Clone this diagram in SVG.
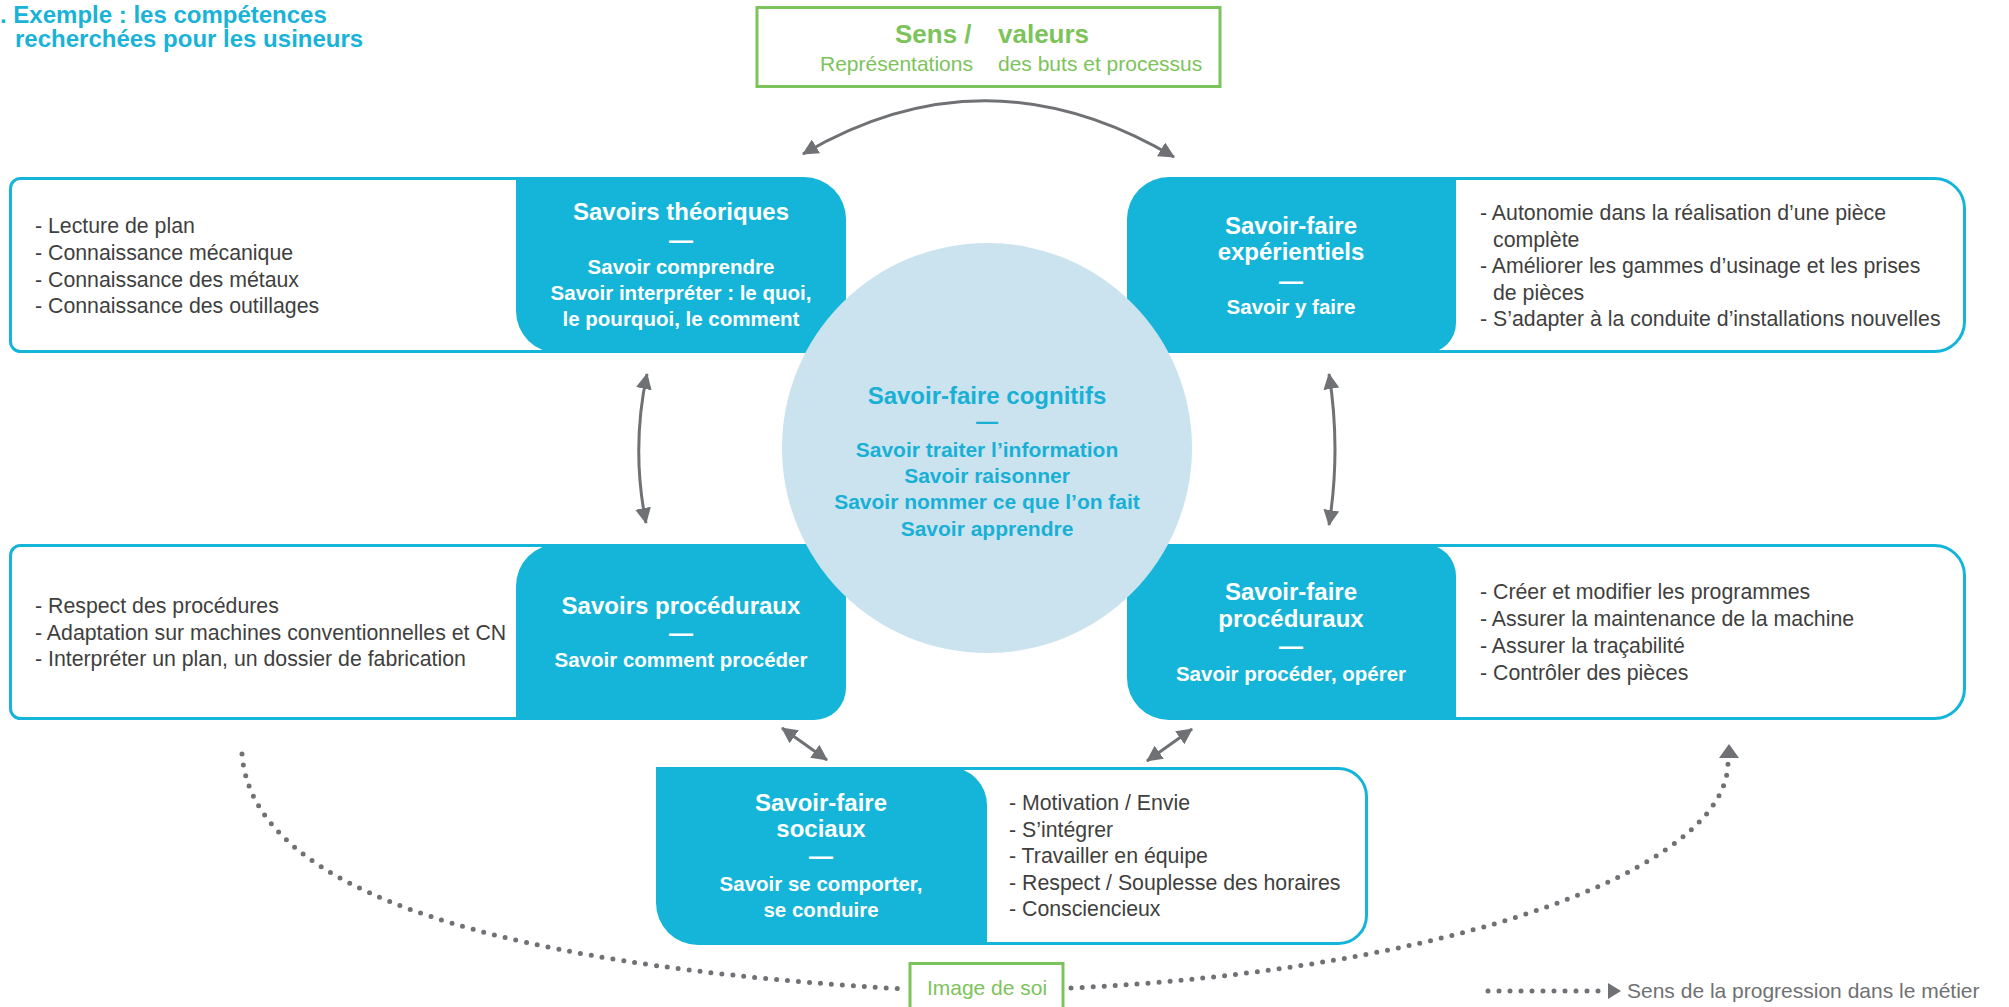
<svg xmlns="http://www.w3.org/2000/svg" width="2009" height="1007" viewBox="0 0 2009 1007">
<style>
text{font-family:"Liberation Sans",Arial,sans-serif}
.ttl{font-size:24px;font-weight:bold;fill:#19b3d8}
.box{fill:#fff;stroke:#15b5d9;stroke-width:3}
.blk{fill:#15b5d9}
.wh{fill:#fff;font-weight:bold;text-anchor:middle}
.h{font-size:24px}
.s{font-size:20.5px}
.li{font-size:21.3px;fill:#3f3f40}
.cg{fill:#19b0d6;font-weight:bold;text-anchor:middle}
.gr{fill:#7dc35b}
.arr{fill:none;stroke:#6f7174;stroke-width:3}
.dot{fill:none;stroke:#6f7174;stroke-width:5;stroke-linecap:round;stroke-dasharray:0 11}
</style>
<defs>
<marker id="ah" markerUnits="userSpaceOnUse" markerWidth="16" markerHeight="16" viewBox="0 0 16 16" refX="15" refY="8" orient="auto-start-reverse">
<path d="M0,0 L16,8 L0,16 z" fill="#6f7174"/>
</marker>
</defs>
<rect width="2009" height="1007" fill="#fff"/>

<g id="title">
<text class="ttl" x="0" y="23">. Exemple : les compétences</text>
<text class="ttl" x="15" y="47">recherchées pour les usineurs</text>
</g>

<g id="sens">
<rect x="757" y="7.5" width="463" height="79" fill="#fff" stroke="#7dc35b" stroke-width="3"/>
<text class="gr" x="895" y="43" font-size="26" font-weight="bold">Sens /</text>
<text class="gr" x="998" y="43" font-size="26" font-weight="bold">valeurs</text>
<text class="gr" x="820" y="71" font-size="21">Représentations</text>
<text class="gr" x="998" y="71" font-size="21">des buts et processus</text>
</g>

<g id="connectors">
<path class="arr" d="M803,154 Q987,46 1174,157" marker-start="url(#ah)" marker-end="url(#ah)"/>
<path class="arr" d="M647,374 Q631,448 646,523" marker-start="url(#ah)" marker-end="url(#ah)"/>
<path class="arr" d="M1329,374 Q1341,449 1329,525" marker-start="url(#ah)" marker-end="url(#ah)"/>
<path class="arr" d="M782,728 L827,760" marker-start="url(#ah)" marker-end="url(#ah)"/>
<path class="arr" d="M1192,729 L1147,761" marker-start="url(#ah)" marker-end="url(#ah)"/>
<path class="dot" d="M242,754 C250,860 400,960 904,989"/>
<path class="dot" d="M1071,988 C1450,970 1728,870 1728,762"/>
<polygon points="1729,744 1739,758 1719,758" fill="#6f7174"/>
</g>

<g id="savoirs-theoriques">
<rect class="box" x="10.5" y="178.5" width="650" height="173" rx="10"/>
<path class="blk" d="M516,177 H804 A42,42 0 0 1 846,219 V353 H558 A42,42 0 0 1 516,311 Z"/>
<text class="wh h" x="681" y="220">Savoirs théoriques</text>
<text class="wh h" x="681" y="248">—</text>
<text class="wh s" x="681" y="274">Savoir comprendre</text>
<text class="wh s" x="681" y="300">Savoir interpréter : le quoi,</text>
<text class="wh s" x="681" y="326">le pourquoi, le comment</text>
<text class="li" x="35" y="233">- Lecture de plan</text>
<text class="li" x="35" y="260">- Connaissance mécanique</text>
<text class="li" x="35" y="286.5">- Connaissance des métaux</text>
<text class="li" x="35" y="313">- Connaissance des outillages</text>
</g>

<g id="savoir-faire-experientiels">
<rect class="box" x="1300" y="178.5" width="664.5" height="173" rx="30"/>
<path class="blk" d="M1169,177 H1456 V323 A30,30 0 0 1 1426,353 H1127 V219 A42,42 0 0 1 1169,177 Z"/>
<text class="wh h" x="1291" y="234">Savoir-faire</text>
<text class="wh h" x="1291" y="260">expérientiels</text>
<text class="wh h" x="1291" y="289">—</text>
<text class="wh s" x="1291" y="314">Savoir y faire</text>
<text class="li" x="1480" y="220">- Autonomie dans la réalisation d’une pièce</text>
<text class="li" x="1493" y="246.5">complète</text>
<text class="li" x="1480" y="273">- Améliorer les gammes d’usinage et les prises</text>
<text class="li" x="1493" y="299.5">de pièces</text>
<text class="li" x="1480" y="326">- S’adapter à la conduite d’installations nouvelles</text>
</g>

<g id="savoirs-proceduraux">
<rect class="box" x="10.5" y="545.5" width="650" height="173" rx="10"/>
<path class="blk" d="M558,544 H846 V688 A32,32 0 0 1 814,720 H516 V586 A42,42 0 0 1 558,544 Z"/>
<text class="wh h" x="681" y="614">Savoirs procéduraux</text>
<text class="wh h" x="681" y="641">—</text>
<text class="wh s" x="681" y="667">Savoir comment procéder</text>
<text class="li" x="35" y="613">- Respect des procédures</text>
<text class="li" x="35" y="639.5">- Adaptation sur machines conventionnelles et CN</text>
<text class="li" x="35" y="666">- Interpréter un plan, un dossier de fabrication</text>
</g>

<g id="savoir-faire-proceduraux">
<rect class="box" x="1300" y="545.5" width="664.5" height="173" rx="30"/>
<path class="blk" d="M1127,544 H1424 A32,32 0 0 1 1456,576 V720 H1169 A42,42 0 0 1 1127,678 Z"/>
<text class="wh h" x="1291" y="600">Savoir-faire</text>
<text class="wh h" x="1291" y="627">procéduraux</text>
<text class="wh h" x="1291" y="654">—</text>
<text class="wh s" x="1291" y="681">Savoir procéder, opérer</text>
<text class="li" x="1480" y="599">- Créer et modifier les programmes</text>
<text class="li" x="1480" y="626">- Assurer la maintenance de la machine</text>
<text class="li" x="1480" y="653">- Assurer la traçabilité</text>
<text class="li" x="1480" y="680">- Contrôler des pièces</text>
</g>

<g id="savoir-faire-sociaux">
<rect class="box" x="800" y="768.5" width="566.5" height="175" rx="28"/>
<path class="blk" d="M656,767 H949 A38,38 0 0 1 987,805 V945 H698 A42,42 0 0 1 656,903 Z"/>
<text class="wh h" x="821" y="811">Savoir-faire</text>
<text class="wh h" x="821" y="837">sociaux</text>
<text class="wh h" x="821" y="864">—</text>
<text class="wh s" x="821" y="891">Savoir se comporter,</text>
<text class="wh s" x="821" y="917">se conduire</text>
<text class="li" x="1009" y="810">- Motivation / Envie</text>
<text class="li" x="1009" y="836.5">- S’intégrer</text>
<text class="li" x="1009" y="863">- Travailler en équipe</text>
<text class="li" x="1009" y="889.5">- Respect / Souplesse des horaires</text>
<text class="li" x="1009" y="916">- Consciencieux</text>
</g>

<g id="savoir-faire-cognitifs">
<circle cx="987" cy="448" r="205" fill="#cae3ee"/>
<text class="cg" x="987" y="404" font-size="24">Savoir-faire cognitifs</text>
<text class="cg" x="987" y="429" font-size="22">—</text>
<text class="cg" x="987" y="457" font-size="21">Savoir traiter l’information</text>
<text class="cg" x="987" y="483" font-size="21">Savoir raisonner</text>
<text class="cg" x="987" y="509" font-size="21">Savoir nommer ce que l’on fait</text>
<text class="cg" x="987" y="536" font-size="21">Savoir apprendre</text>
</g>

<g id="image-de-soi">
<rect x="910" y="963.5" width="153" height="60" fill="#fff" stroke="#7dc35b" stroke-width="3"/>
<text class="gr" x="987" y="995" font-size="21" text-anchor="middle">Image de soi</text>
</g>

<g id="legend">
<line class="dot" x1="1488" y1="991" x2="1602" y2="991"/>
<polygon points="1608,983 1621,991 1608,999" fill="#6f7174"/>
<text x="1627" y="998" font-size="21" fill="#707173">Sens de la progression dans le métier</text>
</g>
</svg>
